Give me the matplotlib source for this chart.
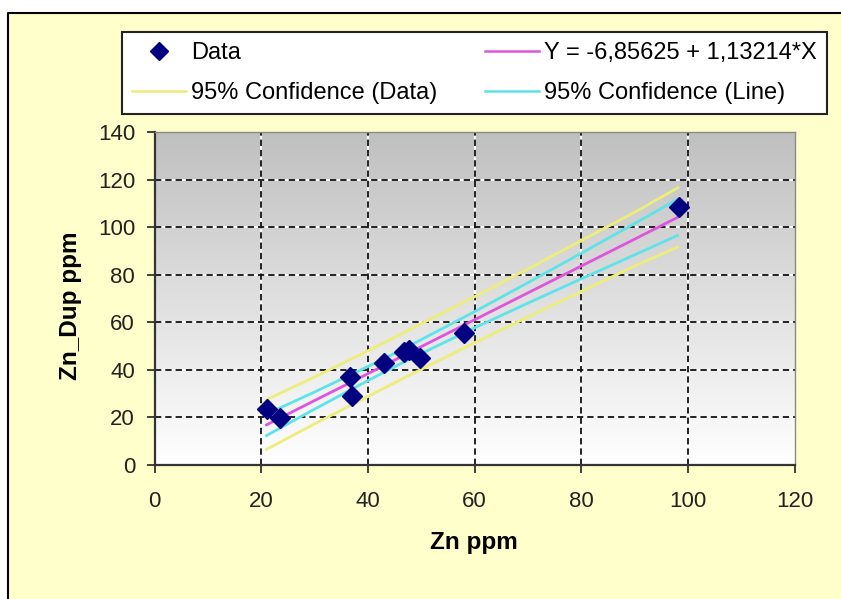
import numpy as np
import matplotlib
matplotlib.use("Agg")
import matplotlib.pyplot as plt
from matplotlib.lines import Line2D
from matplotlib.patches import Rectangle

# duplicate check data
zn = [21.0, 23.5, 36.6, 37.0, 43.0, 46.8, 47.7, 49.8, 58.0, 98.2]
zn_dup = [23.7, 19.9, 37.2, 29.2, 42.7, 47.4, 48.2, 44.8, 55.4, 108.3]

# regression line and the two confidence bands
band_x = [21, 30, 40, 47, 60, 70, 80, 90, 98]
fit_y = [16.9, 27.1, 38.4, 46.4, 61.1, 72.4, 83.7, 95.0, 104.1]
line_hi = [21.4, 30.7, 41.4, 49.2, 64.5, 76.7, 89.1, 101.6, 111.7]
line_lo = [12.4, 23.5, 35.5, 43.6, 57.7, 68.1, 78.3, 88.4, 96.5]
data_hi = [27.5, 37.0, 48.0, 56.0, 70.8, 82.5, 94.4, 106.3, 116.5]
data_lo = [6.6, 17.3, 28.8, 36.9, 51.4, 62.3, 73.0, 83.7, 91.6]

x_ticks = [0, 20, 40, 60, 80, 100, 120]
y_ticks = [0, 20, 40, 60, 80, 100, 120, 140]

W, H = 841, 599
CREAM = "#ffffcc"
YELLOW = "#eded7a"
CYAN = "#5ee3e8"
MAGENTA = "#dd55dd"
NAVY = "#000080"

fig = plt.figure(figsize=(W / 100, H / 100), dpi=100, facecolor="white")

# cream chart area, border only on top and left (rest is cut off)
fig.patches.append(Rectangle((8 / W, 0), 1, 1 - 13 / H, transform=fig.transFigure,
                             facecolor=CREAM, edgecolor="none", zorder=-2))
fig.lines.append(Line2D([8 / W, 8 / W, 1], [0, 1 - 13 / H, 1 - 13 / H],
                        transform=fig.transFigure, color="black", lw=1.5, zorder=-1))

ax = fig.add_axes([154.5 / W, (H - 465) / H, (795 - 154.5) / W, (465 - 132) / H])

# grey gradient background of plot area, dark at the top
grad = np.linspace(0, 1, 256).reshape(-1, 1)
grad_rgb = np.dstack([0.75 + 0.25 * grad] * 3)
ax.imshow(grad_rgb, extent=[0, 120, 0, 140], aspect="auto", zorder=0,
          origin="upper", interpolation="bilinear")
ax.set_xlim(0, 120)
ax.set_ylim(0, 140)

# dashed grid, black dashes on white
for gx in x_ticks[1:-1]:
    ax.axvline(gx, color="white", lw=1.3, zorder=1)
    ax.axvline(gx, color="#111111", lw=1.3, ls=(0, (3.5, 2.2)), zorder=1.1)
for gy in y_ticks[1:-1]:
    ax.axhline(gy, color="white", lw=1.3, zorder=1)
    ax.axhline(gy, color="#111111", lw=1.3, ls=(0, (3.5, 2.2)), zorder=1.1)

ax.plot(band_x, data_hi, color=YELLOW, lw=2.0, zorder=2)
ax.plot(band_x, data_lo, color=YELLOW, lw=2.0, zorder=2)
ax.plot(band_x, line_hi, color=CYAN, lw=2.0, zorder=2)
ax.plot(band_x, line_lo, color=CYAN, lw=2.0, zorder=2)
ax.plot(band_x, fit_y, color=MAGENTA, lw=2.0, zorder=2)
ax.plot(zn, zn_dup, ls="none", marker="D", ms=10, color=NAVY, zorder=3)

for side in ["left", "bottom"]:
    ax.spines[side].set_color("#333333")
    ax.spines[side].set_linewidth(1.6)
for side in ["top", "right"]:
    ax.spines[side].set_color("#8a8a80")
    ax.spines[side].set_linewidth(1.0)

tick_font = {"family": "Liberation Sans", "size": 16}
ax.set_xticks(x_ticks)
ax.set_yticks(y_ticks)
ax.set_xticklabels([str(v) for v in x_ticks], fontdict=tick_font, color="#222222")
ax.set_yticklabels([str(v) for v in y_ticks], fontdict=tick_font, color="#222222")
ax.tick_params(direction="out", length=6, width=1.3, color="#333333", pad=8)
ax.tick_params(axis="x", pad=13)

label_font = {"family": "Liberation Sans", "size": 17.5, "weight": "bold"}
fig.text(474 / W, 1 - 543 / H, "Zn ppm", ha="center", va="center", fontdict=label_font)
fig.text(70 / W, 1 - 306 / H, "Zn_Dup ppm", ha="center", va="center",
         rotation=90, fontdict=label_font)

handles = [
    Line2D([], [], ls="none", marker="D", ms=9, color=NAVY),
    Line2D([], [], color=YELLOW, lw=1.8),
    Line2D([], [], color=MAGENTA, lw=1.8),
    Line2D([], [], color=CYAN, lw=1.8),
]
labels = ["Data", "95% Confidence (Data)", "Y = -6,85625 + 1,13214*X",
          "95% Confidence (Line)"]
leg = fig.legend(handles, labels, ncol=2, mode="expand", loc="lower left",
                 bbox_to_anchor=(122 / W, 1 - 114 / H, 705 / W, 82 / H),
                 borderaxespad=0, borderpad=0.43, handlelength=2.3,
                 handletextpad=0.2, labelspacing=0.75, fancybox=False,
                 prop={"family": "Liberation Sans", "size": 17})
leg.get_frame().set_edgecolor("#222222")
leg.get_frame().set_linewidth(1.5)
leg.get_frame().set_facecolor("white")
leg.get_frame().set_alpha(1)

fig.savefig("out.png", dpi=100, facecolor=fig.get_facecolor())
